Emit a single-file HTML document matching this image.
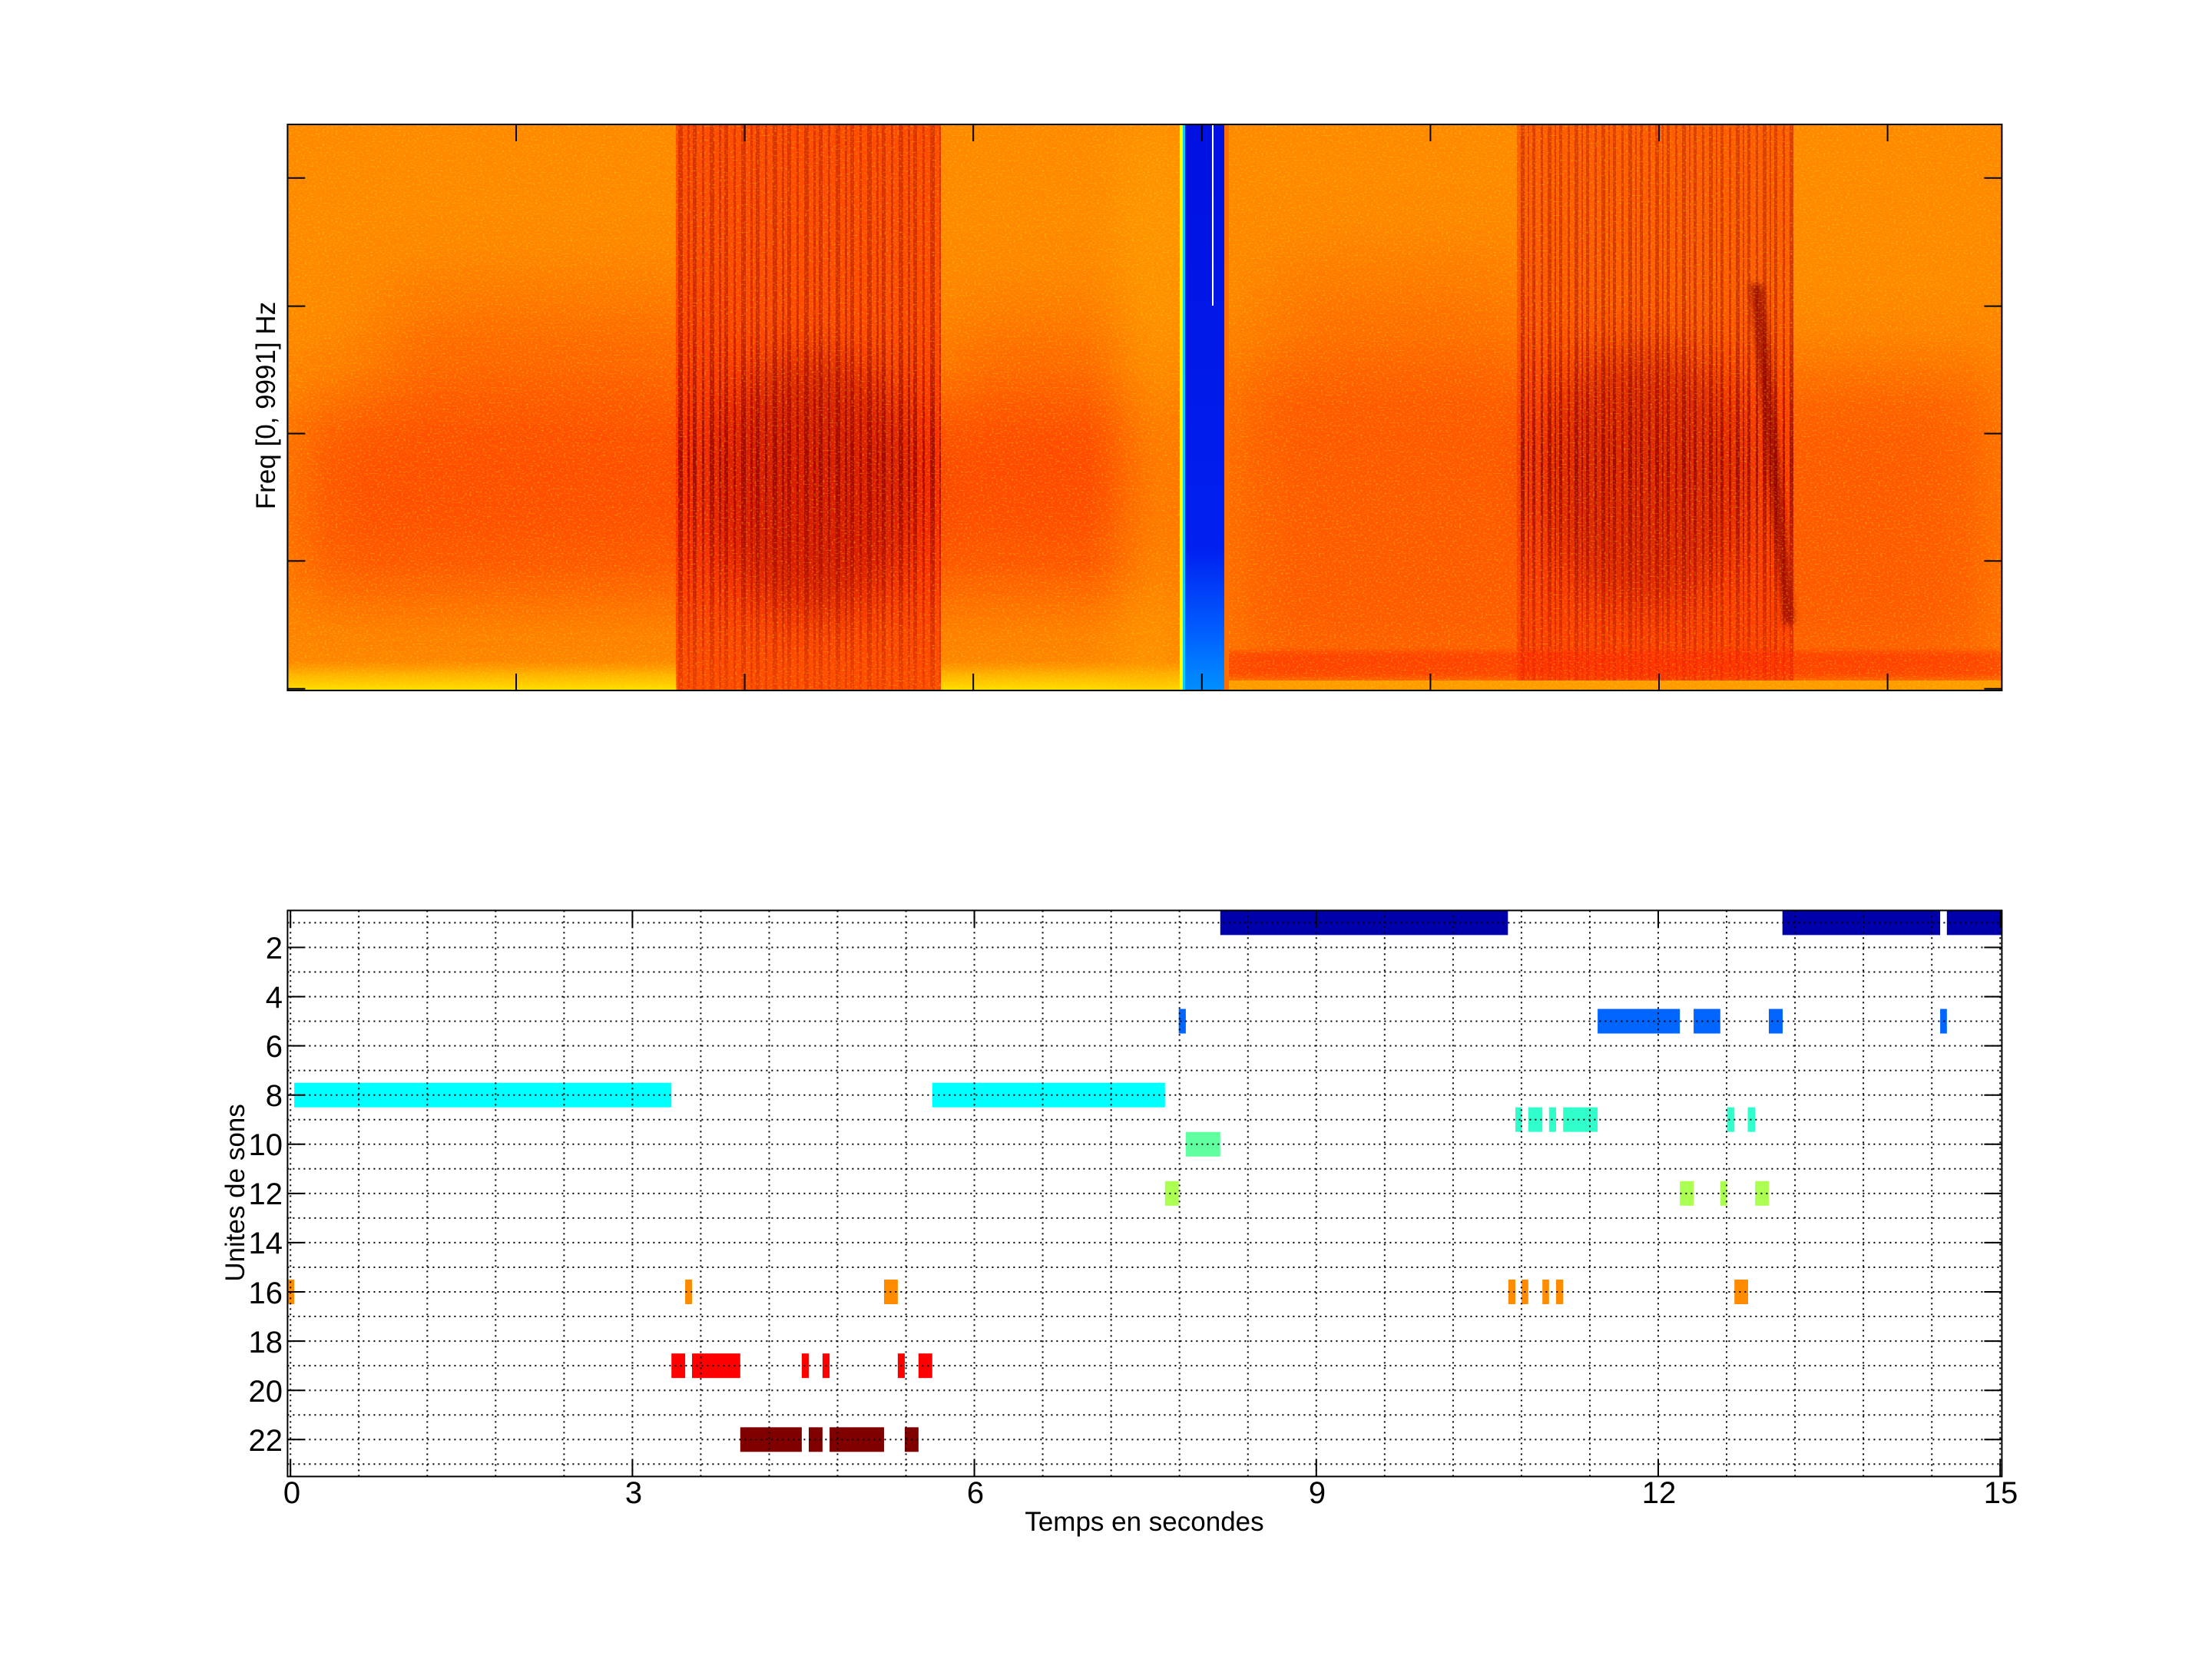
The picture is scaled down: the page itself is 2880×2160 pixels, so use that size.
<!DOCTYPE html>
<html><head><meta charset="utf-8"><style>
html,body{margin:0;padding:0;background:#fff;}
svg{display:block;}
text{font-family:"Liberation Sans",Arial,sans-serif;fill:#000;}
</style></head><body>
<svg width="2880" height="2160" viewBox="0 0 2880 2160" xmlns="http://www.w3.org/2000/svg">
<defs>
  <filter id="noise" x="0" y="0" width="100%" height="100%">
    <feTurbulence type="fractalNoise" baseFrequency="0.35 0.5" numOctaves="1" seed="3" result="t"/>
    <feColorMatrix in="t" type="matrix" values="0 0 0 0 1  0 0 0 0 0.85  0 0 0 0 0  0 0 0 3 -1.55"/>
  </filter>
  <filter id="blur60" x="-50%" y="-50%" width="200%" height="200%"><feGaussianBlur stdDeviation="50"/></filter>
  <filter id="blur30" x="-50%" y="-50%" width="200%" height="200%"><feGaussianBlur stdDeviation="30"/></filter>
  <filter id="blur4" x="-50%" y="-50%" width="200%" height="200%"><feGaussianBlur stdDeviation="4"/></filter>
  <pattern id="stripesL" x="0" y="0" width="41" height="10" patternUnits="userSpaceOnUse">
    <rect x="0" y="0" width="5" height="10" fill="#8a0000"/>
    <rect x="12" y="0" width="3" height="10" fill="#8a0000"/>
    <rect x="22" y="0" width="6" height="10" fill="#8a0000"/>
    <rect x="34" y="0" width="3" height="10" fill="#8a0000"/>
  </pattern>
  <pattern id="stripesR" x="0" y="0" width="35" height="10" patternUnits="userSpaceOnUse">
    <rect x="0" y="0" width="4" height="10" fill="#8a0000"/>
    <rect x="11" y="0" width="3" height="10" fill="#8a0000"/>
    <rect x="20" y="0" width="5" height="10" fill="#8a0000"/>
    <rect x="29" y="0" width="2" height="10" fill="#8a0000"/>
  </pattern>
  <linearGradient id="vmaskL" x1="0" y1="0" x2="0" y2="1">
    <stop offset="0" stop-color="#fff" stop-opacity="0.3"/>
    <stop offset="0.35" stop-color="#fff" stop-opacity="0.4"/>
    <stop offset="0.6" stop-color="#fff" stop-opacity="0.75"/>
    <stop offset="0.85" stop-color="#fff" stop-opacity="0.35"/>
    <stop offset="1" stop-color="#fff" stop-opacity="0.15"/>
  </linearGradient>
  <mask id="mL"><rect x="880" y="162" width="345" height="737" fill="url(#vmaskL)"/></mask>
  <mask id="mR"><rect x="1975" y="162" width="360" height="737" fill="url(#vmaskL)"/></mask>
  <linearGradient id="blueG" x1="0" y1="0" x2="0" y2="1">
    <stop offset="0" stop-color="#0010e0"/>
    <stop offset="0.75" stop-color="#0020f0"/>
    <stop offset="0.9" stop-color="#0060ff"/>
    <stop offset="1" stop-color="#0090ff"/>
  </linearGradient>
  <linearGradient id="yel" x1="0" y1="0" x2="0" y2="1">
    <stop offset="0" stop-color="#ffb000" stop-opacity="0"/>
    <stop offset="0.5" stop-color="#ffc000" stop-opacity="0.8"/>
    <stop offset="1" stop-color="#ffe000"/>
  </linearGradient>
  <clipPath id="clipTop"><rect x="374.4" y="162" width="2232" height="737"/></clipPath>
</defs>

<!-- ===== Top spectrogram ===== -->
<g clip-path="url(#clipTop)">
  <rect x="374.4" y="162" width="2232" height="737" fill="#ff8800"/>
  <!-- left broad red -->
  <rect x="380" y="520" width="1150" height="260" fill="#ff2400" opacity="0.55" filter="url(#blur60)"/>
  <rect x="500" y="380" width="450" height="200" fill="#ff3000" opacity="0.35" filter="url(#blur60)"/>
  <rect x="1230" y="400" width="250" height="250" fill="#ff3000" opacity="0.3" filter="url(#blur60)"/>
  <!-- right broad red -->
  <rect x="1594" y="480" width="1013" height="420" fill="#ff2400" opacity="0.45" filter="url(#blur60)"/>
  <rect x="1650" y="340" width="350" height="200" fill="#ff3000" opacity="0.25" filter="url(#blur60)"/>
  <!-- left call region -->
  <rect x="880" y="162" width="345" height="737" fill="#ff1a00" opacity="0.55"/>
  <rect x="880" y="162" width="345" height="737" fill="url(#stripesL)" mask="url(#mL)"/>
  <ellipse cx="1060" cy="630" rx="140" ry="170" fill="#a00000" opacity="0.4" filter="url(#blur30)"/>
  <!-- right call region -->
  <rect x="1975" y="162" width="360" height="737" fill="#ff1a00" opacity="0.4"/>
  <rect x="1975" y="162" width="360" height="737" fill="url(#stripesR)" mask="url(#mR)"/>
  <ellipse cx="2140" cy="620" rx="140" ry="170" fill="#a00000" opacity="0.35" filter="url(#blur30)"/>
  <polygon points="2278,370 2296,370 2336,810 2322,815" fill="#8a0000" opacity="0.7" filter="url(#blur4)"/>
  <!-- right bottom red band -->
  <rect x="1594" y="848" width="1013" height="35" fill="#ff2000" opacity="0.5" filter="url(#blur4)"/>
  <rect x="1594" y="886" width="1013" height="13" fill="#ff9a00"/>
  <!-- left yellow bottom band -->
  <rect x="374.4" y="860" width="506" height="39" fill="url(#yel)"/>
  <rect x="1225" y="860" width="315" height="39" fill="url(#yel)"/>
  <rect x="1460" y="162" width="80" height="737" fill="#ffa800" opacity="0.4" filter="url(#blur30)"/>
  <!-- noise speckle -->
  <rect x="374.4" y="162" width="2232" height="737" filter="url(#noise)" opacity="0.45"/>
  <!-- blue gap -->
  <rect x="1536" y="162" width="4" height="737" fill="#ffff00"/>
  <rect x="1540" y="162" width="3" height="737" fill="#00d0ff"/>
  <rect x="1543" y="162" width="51" height="737" fill="url(#blueG)"/>
  <rect x="1594" y="162" width="6" height="737" fill="#ff7000"/>
  <rect x="1578" y="162" width="2" height="236" fill="#ffffff"/>
</g>
<!-- top axes frame and ticks -->
<g stroke="#000" stroke-width="2" fill="none">
  <rect x="374.4" y="162" width="2232" height="737"/>
  <path d="M374.4 231.7h23M374.4 398.6h23M374.4 564.5h23M374.4 730.4h23M374.4 896.7h23
           M2606.4 231.7h-23M2606.4 398.6h-23M2606.4 564.5h-23M2606.4 730.4h-23M2606.4 896.7h-23"/>
  <path d="M672 162v22M969.6 162v22M1267.2 162v22M1564.8 162v22M1862.4 162v22M2160 162v22M2457.6 162v22
           M672 899v-22M969.6 899v-22M1267.2 899v-22M1564.8 899v-22M1862.4 899v-22M2160 899v-22M2457.6 899v-22"/>
</g>
<text x="0" y="0" font-size="35" text-anchor="middle" transform="translate(358,528) rotate(-90)">Freq [0, 9991] Hz</text>

<!-- ===== Bottom plot ===== -->
<g>
  <g fill="#0000aa">
    <rect x="1588.8" y="1185.4" width="374.5" height="32"/>
    <rect x="2320.7" y="1185.4" width="205.4" height="32"/>
    <rect x="2534.8" y="1185.4" width="71.6" height="32"/>
  </g>
  <g fill="#0066ff">
    <rect x="1534.7" y="1313.6" width="9.2" height="32"/>
    <rect x="2080.1" y="1313.6" width="107.1" height="32"/>
    <rect x="2205.1" y="1313.6" width="34.7" height="32"/>
    <rect x="2303" y="1313.6" width="18" height="32"/>
    <rect x="2526.1" y="1313.6" width="8.7" height="32"/>
  </g>
  <g fill="#00ffff">
    <rect x="383.1" y="1409.7" width="491.1" height="32"/>
    <rect x="1213.8" y="1409.7" width="303" height="32"/>
  </g>
  <g fill="#30ffcc">
    <rect x="1973" y="1441.7" width="8.1" height="32"/>
    <rect x="1989.8" y="1441.7" width="18.4" height="32"/>
    <rect x="2016.8" y="1441.7" width="9.2" height="32"/>
    <rect x="2035.2" y="1441.7" width="44.9" height="32"/>
    <rect x="2248.5" y="1441.7" width="9.7" height="32"/>
    <rect x="2275.5" y="1441.7" width="9.7" height="32"/>
  </g>
  <g fill="#60ff9f">
    <rect x="1543.9" y="1473.8" width="44.9" height="32"/>
  </g>
  <g fill="#aaff50">
    <rect x="1516.8" y="1537.8" width="17.9" height="32"/>
    <rect x="2187.2" y="1537.8" width="17.9" height="32"/>
    <rect x="2239.8" y="1537.8" width="8.7" height="32"/>
    <rect x="2285.2" y="1537.8" width="17.8" height="32"/>
  </g>
  <g fill="#ff8c00">
    <rect x="374.4" y="1666" width="8.7" height="32"/>
    <rect x="892.1" y="1666" width="8.9" height="32"/>
    <rect x="1151" y="1666" width="17.9" height="32"/>
    <rect x="1963.8" y="1666" width="9.2" height="32"/>
    <rect x="1981.1" y="1666" width="8.7" height="32"/>
    <rect x="2008.2" y="1666" width="8.6" height="32"/>
    <rect x="2026" y="1666" width="9.2" height="32"/>
    <rect x="2258.2" y="1666" width="17.8" height="32"/>
  </g>
  <g fill="#ff0000">
    <rect x="874.2" y="1762.2" width="17.9" height="32"/>
    <rect x="901" y="1762.2" width="62.8" height="32"/>
    <rect x="1043.9" y="1762.2" width="9.1" height="32"/>
    <rect x="1070.9" y="1762.2" width="9.2" height="32"/>
    <rect x="1168.9" y="1762.2" width="9.1" height="32"/>
    <rect x="1195.9" y="1762.2" width="17.9" height="32"/>
  </g>
  <g fill="#800000">
    <rect x="963.8" y="1858.3" width="80.1" height="32"/>
    <rect x="1053" y="1858.3" width="17.9" height="32"/>
    <rect x="1080.1" y="1858.3" width="70.9" height="32"/>
    <rect x="1178" y="1858.3" width="17.9" height="32"/>
  </g>
</g>
<!-- grid -->
<g stroke="#000" stroke-width="2" stroke-dasharray="2 5" fill="none">
  <path d="M374.4 1201.4H2606.4M374.4 1233.5H2606.4M374.4 1265.5H2606.4M374.4 1297.6H2606.4M374.4 1329.6H2606.4M374.4 1361.6H2606.4M374.4 1393.7H2606.4M374.4 1425.7H2606.4M374.4 1457.7H2606.4M374.4 1489.8H2606.4M374.4 1521.8H2606.4M374.4 1553.9H2606.4M374.4 1585.9H2606.4M374.4 1617.9H2606.4M374.4 1650H2606.4M374.4 1682H2606.4M374.4 1714H2606.4M374.4 1746.1H2606.4M374.4 1778.1H2606.4M374.4 1810.2H2606.4M374.4 1842.2H2606.4M374.4 1874.2H2606.4M374.4 1906.3H2606.4"/>
  <path d="M378.2 1185.4V1922.4M467.2 1185.4V1922.4M556.3 1185.4V1922.4M645.3 1185.4V1922.4M734.4 1185.4V1922.4M823.4 1185.4V1922.4M912.4 1185.4V1922.4M1001.5 1185.4V1922.4M1090.5 1185.4V1922.4M1179.6 1185.4V1922.4M1268.6 1185.4V1922.4M1357.6 1185.4V1922.4M1446.7 1185.4V1922.4M1535.7 1185.4V1922.4M1624.8 1185.4V1922.4M1713.8 1185.4V1922.4M1802.8 1185.4V1922.4M1891.9 1185.4V1922.4M1980.9 1185.4V1922.4M2070 1185.4V1922.4M2159 1185.4V1922.4M2248 1185.4V1922.4M2337.1 1185.4V1922.4M2426.1 1185.4V1922.4M2515.2 1185.4V1922.4M2604.2 1185.4V1922.4"/>
</g>
<!-- axes frame and ticks -->
<g stroke="#000" stroke-width="2" fill="none">
  <rect x="374.4" y="1185.4" width="2232" height="737"/>
  <path d="M378.2 1922.4v-22M823.4 1922.4v-22M1268.6 1922.4v-22M1713.8 1922.4v-22M2159 1922.4v-22M2604.2 1922.4v-22
           M378.2 1185.4v22M823.4 1185.4v22M1268.6 1185.4v22M1713.8 1185.4v22M2159 1185.4v22M2604.2 1185.4v22"/>
  <path d="M374.4 1233.5h23M374.4 1297.6h23M374.4 1361.6h23M374.4 1425.7h23M374.4 1489.8h23M374.4 1553.9h23M374.4 1617.9h23M374.4 1682h23M374.4 1746.1h23M374.4 1810.2h23M374.4 1874.2h23
           M2606.4 1233.5h-23M2606.4 1297.6h-23M2606.4 1361.6h-23M2606.4 1425.7h-23M2606.4 1489.8h-23M2606.4 1553.9h-23M2606.4 1617.9h-23M2606.4 1682h-23M2606.4 1746.1h-23M2606.4 1810.2h-23M2606.4 1874.2h-23"/>
</g>
<g font-size="40" text-anchor="end">
  <text x="368" y="1248">2</text>
  <text x="368" y="1312">4</text>
  <text x="368" y="1376">6</text>
  <text x="368" y="1440">8</text>
  <text x="368" y="1504">10</text>
  <text x="368" y="1568">12</text>
  <text x="368" y="1632">14</text>
  <text x="368" y="1697">16</text>
  <text x="368" y="1761">18</text>
  <text x="368" y="1825">20</text>
  <text x="368" y="1889">22</text>
</g>
<g font-size="40" text-anchor="middle">
  <text x="380" y="1957">0</text>
  <text x="825" y="1957">3</text>
  <text x="1270" y="1957">6</text>
  <text x="1715" y="1957">9</text>
  <text x="2160" y="1957">12</text>
  <text x="2605" y="1957">15</text>
</g>
<text x="1490" y="1993" font-size="35" text-anchor="middle">Temps en secondes</text>
<text x="0" y="0" font-size="35" text-anchor="middle" transform="translate(318,1553) rotate(-90)">Unites de sons</text>
</svg>
</body></html>
